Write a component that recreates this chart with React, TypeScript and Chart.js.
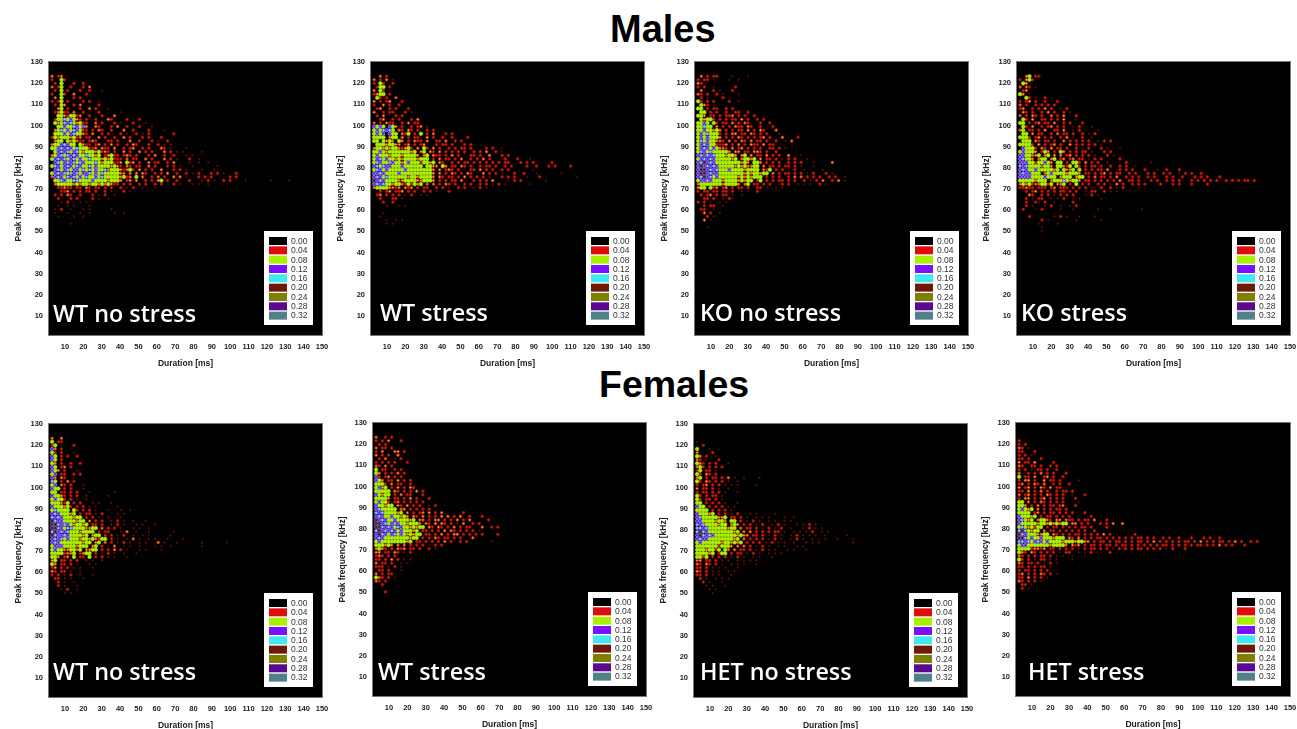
import React, { useEffect, useRef } from "react";
import { Chart, registerables } from "chart.js";

Chart.register(...registerables);

// Each string is one frequency row (125 kHz downward, 1.7 kHz apart); each character one duration
// column (3 ms onward, 1.7 ms apart). "." = empty, digits = index into cellLevelValues.
const durationStart = 3;
const durationStep = 1.7;
const frequencyStart = 125;
const frequencyStep = 1.7;
const cellLevelValues = [0, 0.01, 0.04, 0.06, 0.08, 0.12, 0.16, 0.24];

const maleWtNoStress = [
  "",
  "3.23",
  "2..42",
  ".2.4...2..2",
  "3.24..2...2.3",
  ".2.4.2...2..2...1",
  "2..42..3...2",
  ".3.4...2.2",
  "2.24.2....2.2..1",
  ".2.43..2.3.....2",
  "..34.2...2..3.2...1",
  ".23422.3..2....2......1",
  "..44324423..2...2...3",
  ".244645432.2..2...32....2...2",
  ".43465643422..3.2...2.1...2...1",
  "..4454465453..32...2.3..2...2...1",
  ".34645465422.2.32..2...3..2....2....1",
  ".44454564432.3..2.2...2.1..2.1.2.......2",
  "2434443423.22..3.2..2..3.2...2.2...2",
  ".344.434322.232...22.2...3..2...2.1..2",
  "34456544.4322.23.2.3.2..2.32...2..2.1.1",
  "445656546444223.322.3..2.23..2.2...32.1....1",
  ".456564564344434232.2..3.2..3.2.2...3.2.1.1.....1",
  "3456465654464434.23422.232.2...2.3..2..2...1.1",
  "45656456454464443434222.3.22..3.2...3.2.1...2..1",
  ".5645656465444643444223.423.2..3.22..2.3....1..1..1",
  "46545654654464544443432.32.22..3.2...2.2.1...1.......1",
  ".56456455464645446344432342.3.2.2..3...2.2.1....1...1",
  "456564656455645464444433.3.3.32..2.2.3..2..2.1.2...2.2.1...2",
  "35654656454644546444443423.4.3..2.3.2..3.3.1...2.2.2.....2.2",
  ".4465446644445444434443.23.3..2.2.34.2..2...2...1.2.1..2.2....1.......1.....1",
  ".344444343443443434322.2.2..2.2..2.2...2.1...1.1..1",
  "..22322.22.32.22.2.2..2.1.2..1...1",
  "...223.2.2.22.2..2.1...2.1",
  ".2.2.32..2...2.1.2..1",
  "..2...2.2....2.1..1",
  "...1.2...1.1",
  "..1..1.1....1",
  ".1.2..1...1.1......1",
  ".1...1...1..1.......1..1",
  "..1....1..1",
  "",
  "......1",
];

const maleWtStress = [
  "",
  "..3.2",
  "3.2.3.1",
  "2.42..2",
  ".244.2",
  "3.42..",
  "2344.2",
  ".42.2..3",
  "3.2.23...2",
  "2..3.2..2",
  ".23..2.2...2",
  "3..2.22...2.1",
  ".2.3...2.2..",
  "..23..2.2...2.3",
  "3.2.322..2.3.22",
  "5454.543.2..2.23.1",
  "4546564.32.32.2..2.2",
  "4545.544.324.2.4.2.3...2.2",
  "4444.344.3.2.22..3.2..2..2....2",
  "44.4343.43.2.322.3..22.3..2.2",
  ".44434433.23.2.23...2.22.2...2.2",
  "3443434432342.3.42.3.2..2.2.22.2....2.2..1",
  "44543444444434.34.32.3.2.2.2.2..2.2.3..2.1",
  "454443444344443.34.322.2.3.2...22.2..3...2.2",
  "456454434344443444.2.3.22.2.3..2.2.3.2....2...2...1",
  "46544654434544424434.32..2.2.22.2.2.2.2.2.22...2.2.2.....2",
  "5646554445444444.4433.43.22.32.2..2.22.2..2.2....2..2...2.2....2",
  "46545444445444444443.3.232.2...22.3.2.2..2.2.......1",
  "55654444544444444443.3.2.32.2.32...3.2.2.1...2..2...1.......1",
  "56546444444344344443.32.22.2.3.2.2.2.1...2.2.2...1...2...........1",
  "75654444334444334443.2.2.22.3...2.2.2.3....1.2.2.......1",
  "5656443443242434.3.3.2.32.2..2.2..2.2.1.2.1.......1",
  "344443323.323.2.22..2.2.1..2.2..1.2.1",
  "..2.23.223.2.2..2.2.1...2",
  ".23.2.2.2.1.2..1.1",
  "..2...22.1",
  "...2..2",
  "....1...1.1",
  "",
  "...1",
  "..1",
  "....1..1.1",
  "....1.1",
];

const maleKoNoStress = [
  "",
  ".3.2.22....1....1",
  "2.22.1....1..1",
  "32.",
  "2.2..1......2",
  ".3...2.1...2",
  "32.2..2.1....1",
  ".2.1....2",
  "42.2.2....2..1",
  ".432",
  "44.2.22..2.2",
  ".44.2.2..2..22..2",
  "443.22.2.223.2.2..2",
  ".43442.2.2.22.3.2..2.2",
  "4454.42.22.3.2.32...2..2",
  "44644.3.2.2.322.32..2...2",
  "44544343.2.2.22.3.2.32...3",
  "45464442.2.33.22.32.2.2...1",
  "45454443.2.2.32.2.2.23.2...3....2",
  "464544332.3.2.32.3.22.2..2..1.3",
  "4565442223.2.3.2.322.3.22",
  "4565454332.3.23.2.2.2..22.2.1",
  "46546444443.33.22.332.2..2",
  "5656564443443.34.3.22.3.2.2..3...1",
  "4565654444434.34434.3.22.2.1.2.2...1",
  "56756544444444343.443.2.2.2..2.2.2...1.....3",
  "57565654444434343344.3.22.2.22.2.1...1",
  "57756564445444434444.324.2.2.1.2..1.....1",
  "57756554444444434344344.3.2.22.2.2.1.2...2.1",
  "567564544444434343444.2.2.2..2.3.3.2.2.2..2.2..1",
  "455654443444434344.24.2.2.22.2.2..2.1.2.3..2.3.1",
  "34444444344443.34.22.2.2..12.2..1.1.1..2.1",
  "344.423.23.2.22.2..22.1..1.1",
  "2.22.22.22.2..1.1..2",
  ".2.23.2.22.1..1",
  "..22.2..1.21",
  "2.2.1..1.1",
  "..2.22..1",
  ".22..1",
  "..3.2..1",
  "...2.1",
  "..3.1",
  "",
  "...1",
];

const maleKoStress = [
  "",
  "..34.22",
  "2.342.",
  ".43",
  "3.32.1",
  ".23.",
  "43.1",
  "..42.1..2",
  "2.23.2..2...2",
  "3.2..2.2.2.2",
  "23..2.2.3.2..1.2",
  ".32.2..2.3.2..2.1",
  "3.2.32.2..3.2.3...2",
  ".42.3..22.2.2.3...1",
  "44.2.23.22.3..2.2...2",
  ".42.3..2.23.2.2..1.2...1",
  "34.22.2.3..22.3..1.2.....1",
  ".44.3.22..2.3.22.2..2.1.2",
  "4442.23.2.2..2.3.1..2..1",
  ".444.32.22.2..3.2.2.2.2..1.2.2",
  "44442.3.2.23.2..3.2.2.2.2.1",
  ".54442.32.3.22.2..2.1.2...2.1...1",
  "454443.243.2.43.2.2.22.1...2.2",
  "5544334.34.3.3.23.2.2.2.1...2.1",
  "56443.344.34.23.23.22.1.2.2.....2",
  "55544244543.44.2.442.3.2.2..1.....2.......1",
  "65644443443.44324.42.2.22.2..2..2.2..1",
  "5654454444434.4334.4.2.2.22.3...2.2.2...2...1..2...2",
  "5655444.345444434443.22.2.23.2.22..2.2...2.2..2.2..1.2.2..2",
  "555544445444.3444.344.2.3.22.2.3..2.2.2..2.2...2.2..2...2.2.2...2",
  "444443444.3444643443.22.2.2.2.2.3..22.2...2.2..2.2.2...2.2.2.2.2..2.2.2.22.2",
  "34342334424.334.2.4.2.2..2.2.1.3.2..2.2.2....2...2.2...2....2",
  "22322.222.23.222.2.2.2.1..2..2.1.2....1",
  "..2.23.2.2.2.22.2.2..1.22..2.1.1",
  "...32..2.2.1.2.2.2...1.2.1",
  "..2.1.22..1.1.2..1.1......1",
  "..2..21.2..1.....2",
  "..2.1...1.2..1..1.2",
  ".2...1.2.....1...1.......1...1.........1",
  "",
  "...2.......1.2.1...1....1",
  ".......2.1........1.......1",
  "......1.....1",
  ".......1",
  ".......1",
];

const femaleWtNoStress = [
  "",
  "3..3",
  "4.22",
  "24.1...2",
  "53.2",
  "42.2...1",
  "54.2.2..2",
  "54.2",
  "43.2..2..2",
  "54.23.2",
  "543.2...1",
  "45.22..2.2",
  "53.32..1",
  "64.2.3.2",
  "45.32.2...1",
  "544.2.2...1",
  "44.22.2.2...1.......1",
  "54432.2.2..1......1",
  "45442.2.1..1",
  "444324.2.2...1.1...1",
  "5444342.2.2.1.1......1",
  "464444.42.2.2.1...1...1..1",
  "56544434.2.22.1.2....1.1",
  "6565444344.2.2.1..1...1",
  "76554444344.3.2.2..1.2.1..1...1",
  "776565434434.22.2..1.2.1...1.1...1",
  "776546644443344.3.2.2.1...1.1..1",
  "67565644434444.2.22...1.3..1...1.......1",
  "765565444434.344.2.2.1.2..1..1.1......1",
  "565645444344343244.2.1..1.3.1..1.1...1....1",
  "5654444444344.34.3.2.1.2.1..1.1...3.1...1.......1.......1",
  "455544443444.34.2.1.3..1.1..1....1.1..1.........1",
  "4544334434.3344.2.2.3.2.1...1.1....1",
  "44442334.2344.2.1.2.1..1...1",
  "443.23.4.22.4.2.2.1.1...1",
  "34.22.2.2..1.1..1",
  "43.22.2.1...1.1",
  "23.2.2.1.1...1",
  "32.22.1..1",
  "2.2.1.2..1...1",
  ".22.1.1...1",
  "..2.1..1",
  "..2.1...1",
  "...1.2..1",
  "....1.1",
];

const femaleWtStress = [
  "",
  "3..2.2",
  "2.2.3...2",
  ".2.2...",
  "3.22.2",
  "2.3...33.2",
  "3.2.2..3",
  ".2.3..1.2",
  "2.2.2.2...2",
  "32.3.2",
  "4.22..2.2",
  "43.2.2.3.2",
  "52.23.2.2",
  "543.22.3.2.2",
  "4442.3.22..2",
  "4534.2.3.2.32",
  "44444.32.2.2.3.2",
  "54344.2.3.22...2",
  "44443.22.2.3.2...2",
  "45442.23.2.2.2.2",
  "544344.32.3.2.2..1.2",
  "5644444.33.2.2.2.2",
  "656444434.3.2.23.3.2.3......2",
  "56544544343.32.3.2.2.3.3.2.3..2...2",
  "7565445444434.33.2.33.2.2.3.2.3.....2",
  "775645654434443.32.3.32.2.1.3..2.2",
  "7765654654434344.32.32.2.3.2.22...3..2.2",
  "67565654544434.22.2.2.3.32.2.2.2.1",
  "576545645434344.22.2.3.2.33.2.2.2.2....2",
  "56544444444344.2.2.32.22.2.2...3",
  "454444444434.22.2.2.2.3.2..2.2.......1",
  "444343.3.3.2.2.2.1.2.2",
  "3432.2.323.22.2..2.1",
  "33.22.32.1.2",
  "232.2.2",
  "22.2.3.2.1.1",
  "3.22.2..1.1",
  "222.1.2.1",
  ".22.2...1",
  "3.2.22",
  "432.2.1",
  "32.2",
  "..2",
  "",
  "...2",
];

const femaleHetNoStress = [
  "",
  "",
  "1",
  "..2",
  "4...1",
  "3....2",
  "43.2..1",
  "32.1...2",
  "432.2.2...1",
  "342.2.2.2",
  "24.22.1",
  "42.32.2",
  "34.2.22.2.3.1..1....1",
  "42.32.2.2.1..1",
  "2.23.2.2.1.1.1.....1",
  "3.22.2.1..1",
  "2.22.2.2.1...1",
  "42.2.22.1",
  "42.22.2.1",
  "44.2.2.2.1...1",
  "544.2.2.2.1.1",
  "4444.2.2.2.1",
  "544434.2.2.1.2...1.1.....1",
  "5644444334.22.2.1..1.1.1....1..1",
  "5544443443.44.2.1.2.1..1.1..1.1",
  "6564444344.343.2.2.1.2..1.2.1...1.1.2.1",
  "6656444444344.3.22.2.1.2.1.2..1...1.2.1.1",
  "67654444444434.3.3.2.2.2.22.1..1.1.1.2..1.1",
  "57656544444443433.22.2.1.2.1..1.2.1.1.1..1......1",
  "56554444444434.3.2.2.2.1.2.1..1.2.1..1.1.1...1....1",
  "454444443443434.2.2.2.1.2.1.1..1...1.1.1..........1",
  "444444424443.3.3.2.1.2.1..1.1...1.1",
  "44434424.43.3.22.2.1.2.1.1...1.1...1",
  "444434.244.2.22.1.2.1..1.1.1",
  "4424.2.2.2.1.2.1..1.1...1",
  "33.22.2.1.1..1.1.1.1",
  "32.32.2.1..1.1.1...1",
  "22.2.1.1.1...1",
  "32.2.1.1..1.1",
  "22.2.1.1...1",
  ".2.1..1.1.1",
  "..2.1...1",
  "...1.1...1",
  "....1.1",
  ".....1",
];

const femaleHetStress = [
  "",
  "",
  "2",
  "2.2",
  "32.1",
  "22...2",
  "2.2.1",
  "22.2...2",
  "3.22.3.....2",
  "32..22.2..2.2",
  "2.2.1.22.2..2",
  "3..2.2.3.2.2...2",
  "4.22.3..23.2..2",
  "2.33.2..3.22.2.....1",
  "23.2.32.3..2.2..2",
  "3.23.2.32.3.22",
  "22.3.2.3.2..2.22.2",
  "3.23.2.2.32.2.2..1...2",
  "2.33.2.23.2.2.2...2",
  "44.3.2.32.2.2.2....1",
  "443.2.3.2.22.23...2",
  "45434.3.2.2.22.2",
  "4444.23.2.22.2.2.2...2",
  "544434.2.22.2.2.2......2",
  "56434.34432.33.322.2.22.3...2",
  "5444443443434344.33.2.2...2.2.3..3",
  "46434244.2.22.2.2.2.22.2....2",
  "6764344.3.22.2.2.2.2.2..2",
  "7654443344.32.2.2.22.2.2.2.3.2.......2",
  "776454454443444.32.3.2.2.22.2.2.2.2.2.22.2.2..2.2..2...2...2.2..2",
  "66564565454444344434433.2.22.2.22.2.2.22.2.3.2.2.2.2.22.2.3.2.2.22.2.3.2..2.2",
  "4554444444344443.323.2.22.2.22.2.22.2.2.2.2.2.22.2.2.2.2.22.2.2.3.2.2...2",
  "444423323.22.2.2.2.1.2.22.2.2.1.2.2.2.22.2.2.2.1.2...2",
  "432.32.2.2.2.1.22..1.1.2.1...2",
  "32.2.2.22.2.1.1..1...1",
  "42.2.1.22.1.1....1",
  "32.22.2.1.2.1",
  "22.2.2.22.1",
  "2.22.2.2.2",
  "23.2.2.32.2.1",
  "22.3.2.2.1",
  "32.2.2.1",
  ".22.1",
  ".2.1",
];

const durationTicks = [10, 20, 30, 40, 50, 60, 70, 80, 90, 100, 110, 120, 130, 140, 150];
const frequencyTicks = [10, 20, 30, 40, 50, 60, 70, 80, 90, 100, 110, 120, 130];
const legendLabels = ["0.00", "0.04", "0.08", "0.12", "0.16", "0.20", "0.24", "0.28", "0.32"];
const legendColors = ["#000000", "#e00c0c", "#a8f000", "#7a10ff", "#40e8f0", "#701808", "#808000", "#5a0a90", "#508088"];

const levelStyles: Record<number, { fill: string; edge: string; radius: number; edgeWidth: number }> = {
  1: { fill: "#8a1408", edge: "#3a0800", radius: 0.9, edgeWidth: 0.6 },
  2: { fill: "#ea1408", edge: "#7a1000", radius: 1.4, edgeWidth: 0.8 },
  3: { fill: "#f0b030", edge: "#c01808", radius: 1.3, edgeWidth: 0.9 },
  4: { fill: "#a4f000", edge: "#b8e800", radius: 1.8, edgeWidth: 0.6 },
  5: { fill: "#6a14ff", edge: "#a0a0ff", radius: 1.6, edgeWidth: 0.7 },
  6: { fill: "#70e0f8", edge: "#7a40ff", radius: 1.5, edgeWidth: 0.7 },
  7: { fill: "#302818", edge: "#a060e0", radius: 1.8, edgeWidth: 0.7 },
};

const panels = [
  { label: "WT no stress", rows: maleWtNoStress, left: 49, right: 322, top: 62, bottom: 335, labelX: 53, labelY: 322 },
  { label: "WT stress", rows: maleWtStress, left: 371, right: 644, top: 62, bottom: 335, labelX: 380, labelY: 321 },
  { label: "KO no stress", rows: maleKoNoStress, left: 695, right: 968, top: 62, bottom: 335, labelX: 700, labelY: 321 },
  { label: "KO stress", rows: maleKoStress, left: 1017, right: 1290, top: 62, bottom: 335, labelX: 1021, labelY: 321 },
  { label: "WT no stress", rows: femaleWtNoStress, left: 49, right: 322, top: 424, bottom: 697, labelX: 53, labelY: 680 },
  { label: "WT stress", rows: femaleWtStress, left: 373, right: 646, top: 423, bottom: 696, labelX: 378, labelY: 680 },
  { label: "HET no stress", rows: femaleHetNoStress, left: 694, right: 967, top: 424, bottom: 697, labelX: 700, labelY: 680 },
  { label: "HET stress", rows: femaleHetStress, left: 1016, right: 1290, top: 423, bottom: 696, labelX: 1028, labelY: 680 },
];

const leftMargin = 37;
const rightMargin = 12;
const topMargin = 8;
const bottomMargin = 34;

function pointsForLevel(rows: string[], level: number) {
  const points: { x: number; y: number; v: number }[] = [];
  rows.forEach((row, r) => {
    row.split("").forEach((ch, c) => {
      if (ch !== "." && Number(ch) === level) {
        points.push({ x: durationStart + c * durationStep, y: frequencyStart - r * frequencyStep, v: cellLevelValues[level] });
      }
    });
  });
  return points;
}

const panelPlugin = {
  id: "panelDecor",
  beforeDatasetsDraw(chart: any) {
    const { ctx, chartArea: a } = chart;
    ctx.save();
    ctx.fillStyle = "#000";
    ctx.fillRect(a.left, a.top, a.right - a.left, a.bottom - a.top);
    ctx.restore();
  },
  afterDraw(chart: any, _args: any, opts: any) {
    const { ctx, chartArea: a } = chart;
    ctx.save();
    ctx.strokeStyle = "#777";
    ctx.lineWidth = 1;
    ctx.strokeRect(a.left - 0.5, a.top - 0.5, a.right - a.left + 1, a.bottom - a.top + 1);
    const boxX = a.right - 58;
    const boxY = a.bottom - 104;
    ctx.fillStyle = "#fff";
    ctx.fillRect(boxX, boxY, 49, 94);
    ctx.font = "8.5px 'Liberation Sans'";
    ctx.textBaseline = "middle";
    legendLabels.forEach((t, i) => {
      const y = boxY + 6 + i * 9.33;
      ctx.fillStyle = legendColors[i];
      ctx.fillRect(boxX + 5, y, 18, 8);
      ctx.fillStyle = "#333";
      ctx.fillText(t, boxX + 27, y + 4.5);
    });
    ctx.fillStyle = "#fff";
    ctx.font = "600 23.3px 'Open Sans'";
    ctx.textBaseline = "alphabetic";
    ctx.fillText(opts.label, opts.labelX, opts.labelY);
    ctx.restore();
  },
};

function Panel({ panel }: { panel: (typeof panels)[number] }) {
  const ref = useRef<HTMLCanvasElement>(null);
  useEffect(() => {
    const levels = [7, 6, 5, 4, 3, 2, 1];
    const chart = new Chart(ref.current as HTMLCanvasElement, {
      type: "scatter",
      data: {
        datasets: levels.map((level) => ({
          label: String(cellLevelValues[level]),
          data: pointsForLevel(panel.rows, level),
          backgroundColor: levelStyles[level].fill,
          borderColor: levelStyles[level].edge,
          borderWidth: levelStyles[level].edgeWidth,
          pointRadius: levelStyles[level].radius,
          clip: true,
        })),
      },
      options: {
        responsive: false,
        animation: false,
        events: [],
        layout: { padding: { top: topMargin, right: rightMargin, left: 0, bottom: 0 } },
        plugins: {
          legend: { display: false },
          tooltip: { enabled: false },
          panelDecor: {
            label: panel.label,
            labelX: panel.labelX - panel.left + leftMargin,
            labelY: panel.labelY - panel.top + topMargin,
          },
        } as any,
        scales: {
          x: {
            type: "linear",
            min: 1.3,
            max: 150,
            grid: { display: false, drawTicks: true, tickLength: 4, tickColor: "#222" } as any,
            border: { color: "#777" },
            afterBuildTicks: (s: any) => {
              s.ticks = durationTicks.map((value) => ({ value }));
            },
            afterFit: (s: any) => {
              s.height = bottomMargin;
            },
            ticks: {
              autoSkip: false,
              maxRotation: 0,
              padding: 3,
              color: "#222",
              font: { family: "'Liberation Sans'", size: 7.5, weight: "bold" },
            },
            title: {
              display: true,
              text: "Duration [ms]",
              color: "#222",
              padding: 0,
              font: { family: "'Liberation Sans'", size: 8.5, weight: "bold" },
            },
          },
          y: {
            type: "linear",
            min: 1,
            max: 130,
            grid: { display: false, drawTicks: true, tickLength: 4, tickColor: "#222" } as any,
            border: { color: "#777" },
            afterBuildTicks: (s: any) => {
              s.ticks = frequencyTicks.map((value) => ({ value }));
            },
            afterFit: (s: any) => {
              s.width = leftMargin;
            },
            ticks: {
              autoSkip: false,
              padding: 2,
              color: "#222",
              font: { family: "'Liberation Sans'", size: 7.5, weight: "bold" },
            },
            title: {
              display: true,
              text: "Peak frequency [kHz]",
              color: "#222",
              padding: { top: 2, bottom: 0 },
              font: { family: "'Liberation Sans'", size: 8.5, weight: "bold" },
            },
          },
        },
      },
      plugins: [panelPlugin],
    } as any);
    return () => chart.destroy();
  }, [panel]);
  return (
    <canvas
      ref={ref}
      width={panel.right - panel.left + leftMargin + rightMargin}
      height={panel.bottom - panel.top + topMargin + bottomMargin}
      style={{
        position: "absolute",
        left: panel.left - leftMargin,
        top: panel.top - topMargin,
        filter: "blur(0.45px)",
      }}
    />
  );
}

const titleStyle: React.CSSProperties = {
  position: "absolute",
  fontFamily: "'Liberation Sans', sans-serif",
  fontWeight: "bold",
  lineHeight: "44px",
  color: "#000",
  whiteSpace: "nowrap",
};

export default function App() {
  return (
    <div style={{ position: "fixed", left: 0, top: 0, width: 1297, height: 729, background: "#fff", overflow: "hidden" }}>
      <div style={{ ...titleStyle, fontSize: 38, left: 610, top: 7 }}>Males</div>
      <div style={{ ...titleStyle, fontSize: 37.5, left: 599, top: 362 }}>Females</div>
      {panels.map((p, i) => (
        <Panel key={i} panel={p} />
      ))}
    </div>
  );
}
